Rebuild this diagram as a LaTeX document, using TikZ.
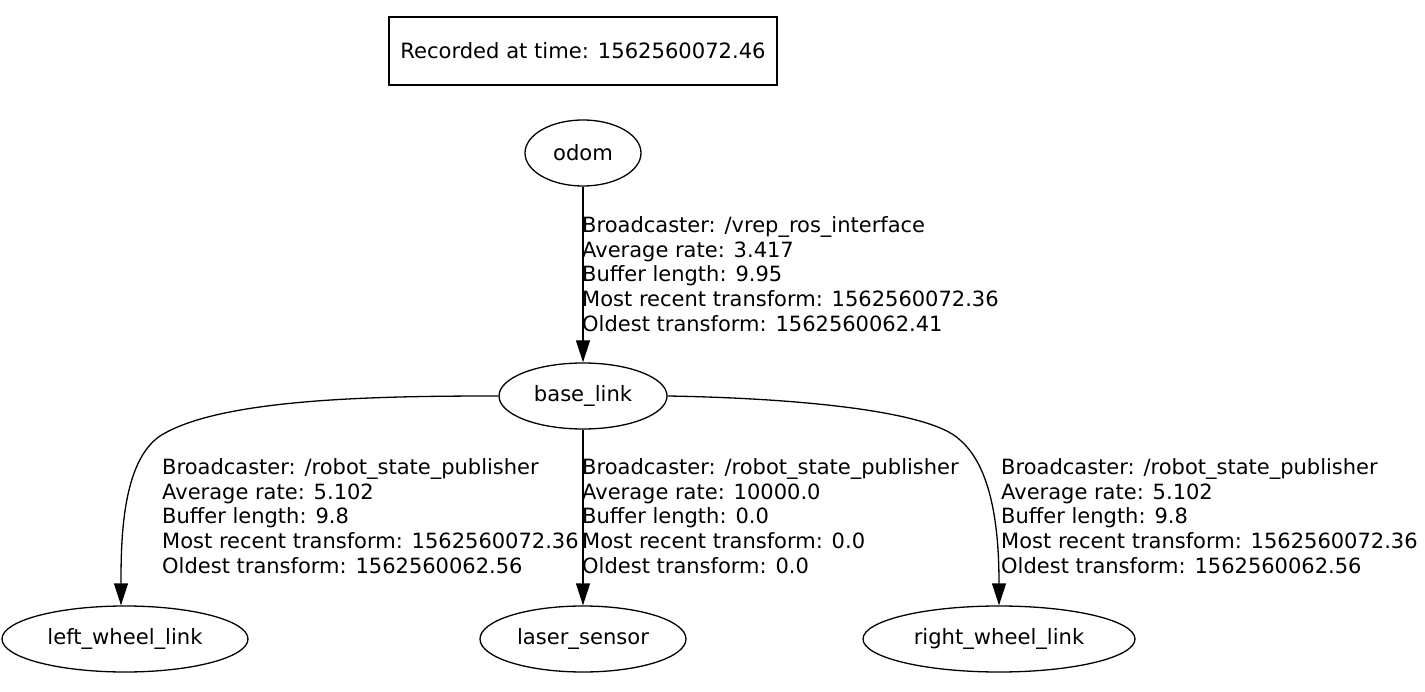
\documentclass[tikz,border=0pt]{standalone}
\usepackage{fontspec}
\setmainfont{DejaVu Sans}
\usetikzlibrary{shapes.geometric,arrows.meta}
\newcommand\tflabelfont{\fontsize{21}{24.8}\selectfont\lineskiplimit=-20pt\relax}

\begin{document}
\begin{tikzpicture}[x=1pt,y=-1pt,
  frame/.style={draw,line width=1.3pt,minimum width=388pt,minimum height=68pt,inner sep=0pt},
  tf/.style={ellipse,draw,line width=1.3pt,minimum width=#1pt,minimum height=66pt,inner sep=0pt},
  tfarrow/.style={line width=1.3pt,-{Triangle[length=22pt,width=14pt]}},
  lbl/.style={anchor=west,align=left,inner sep=0pt,font=\tflabelfont}]
\fill[white] (0,0) rectangle (1425,692);
\useasboundingbox (0,0) rectangle (1425,692);
\begin{scope}[font=\fontsize{21.1}{25}\selectfont]
\node[frame] (rec) at (583,51) {Recorded at time: 1562560072.46};
\node[tf=116] (odom) at (583,153) {odom};
\node[tf=168] (base) at (583,396) {base\_link};
\node[tf=246] (lwl) at (125,639) {left\_wheel\_link};
\node[tf=206] (laser) at (583,639) {laser\_sensor};
\node[tf=272] (rwl) at (999,639) {right\_wheel\_link};
\end{scope}
\draw[tfarrow] (odom) -- (base);
\draw[tfarrow] (base) -- (laser);
\draw[tfarrow] (base.west) .. controls (380,396) and (220,398) .. (160,436)
   .. controls (122,462) and (121,540) .. ([xshift=-4pt]lwl.north);
\draw[tfarrow] (base.east) .. controls (790,398) and (930,410) .. (960,440)
   .. controls (995,470) and (999,540) .. (rwl.north);
\node[lbl] (ltop) at (582,274) {Broadcaster: /vrep\_ros\_interface\\Average rate: 3.417\\Buffer length: 9.95\\Most recent transform: 1562560072.36\\Oldest transform: 1562560062.41};
\foreach \x/\r/\b/\m/\o [count=\i] in %
{162/5.102/9.8/1562560072.36/1562560062.56,582/10000.0/0.0/0.0/0.0,1001/5.102/9.8/1562560072.36/1562560062.56} {
   \node[lbl] (l\i) at (\x,516) {Broadcaster: /robot\_state\_publisher\\Average rate: \r\\Buffer length: \b\\Most recent transform: \m\\Oldest transform: \o};
}
\end{tikzpicture}
\end{document}
